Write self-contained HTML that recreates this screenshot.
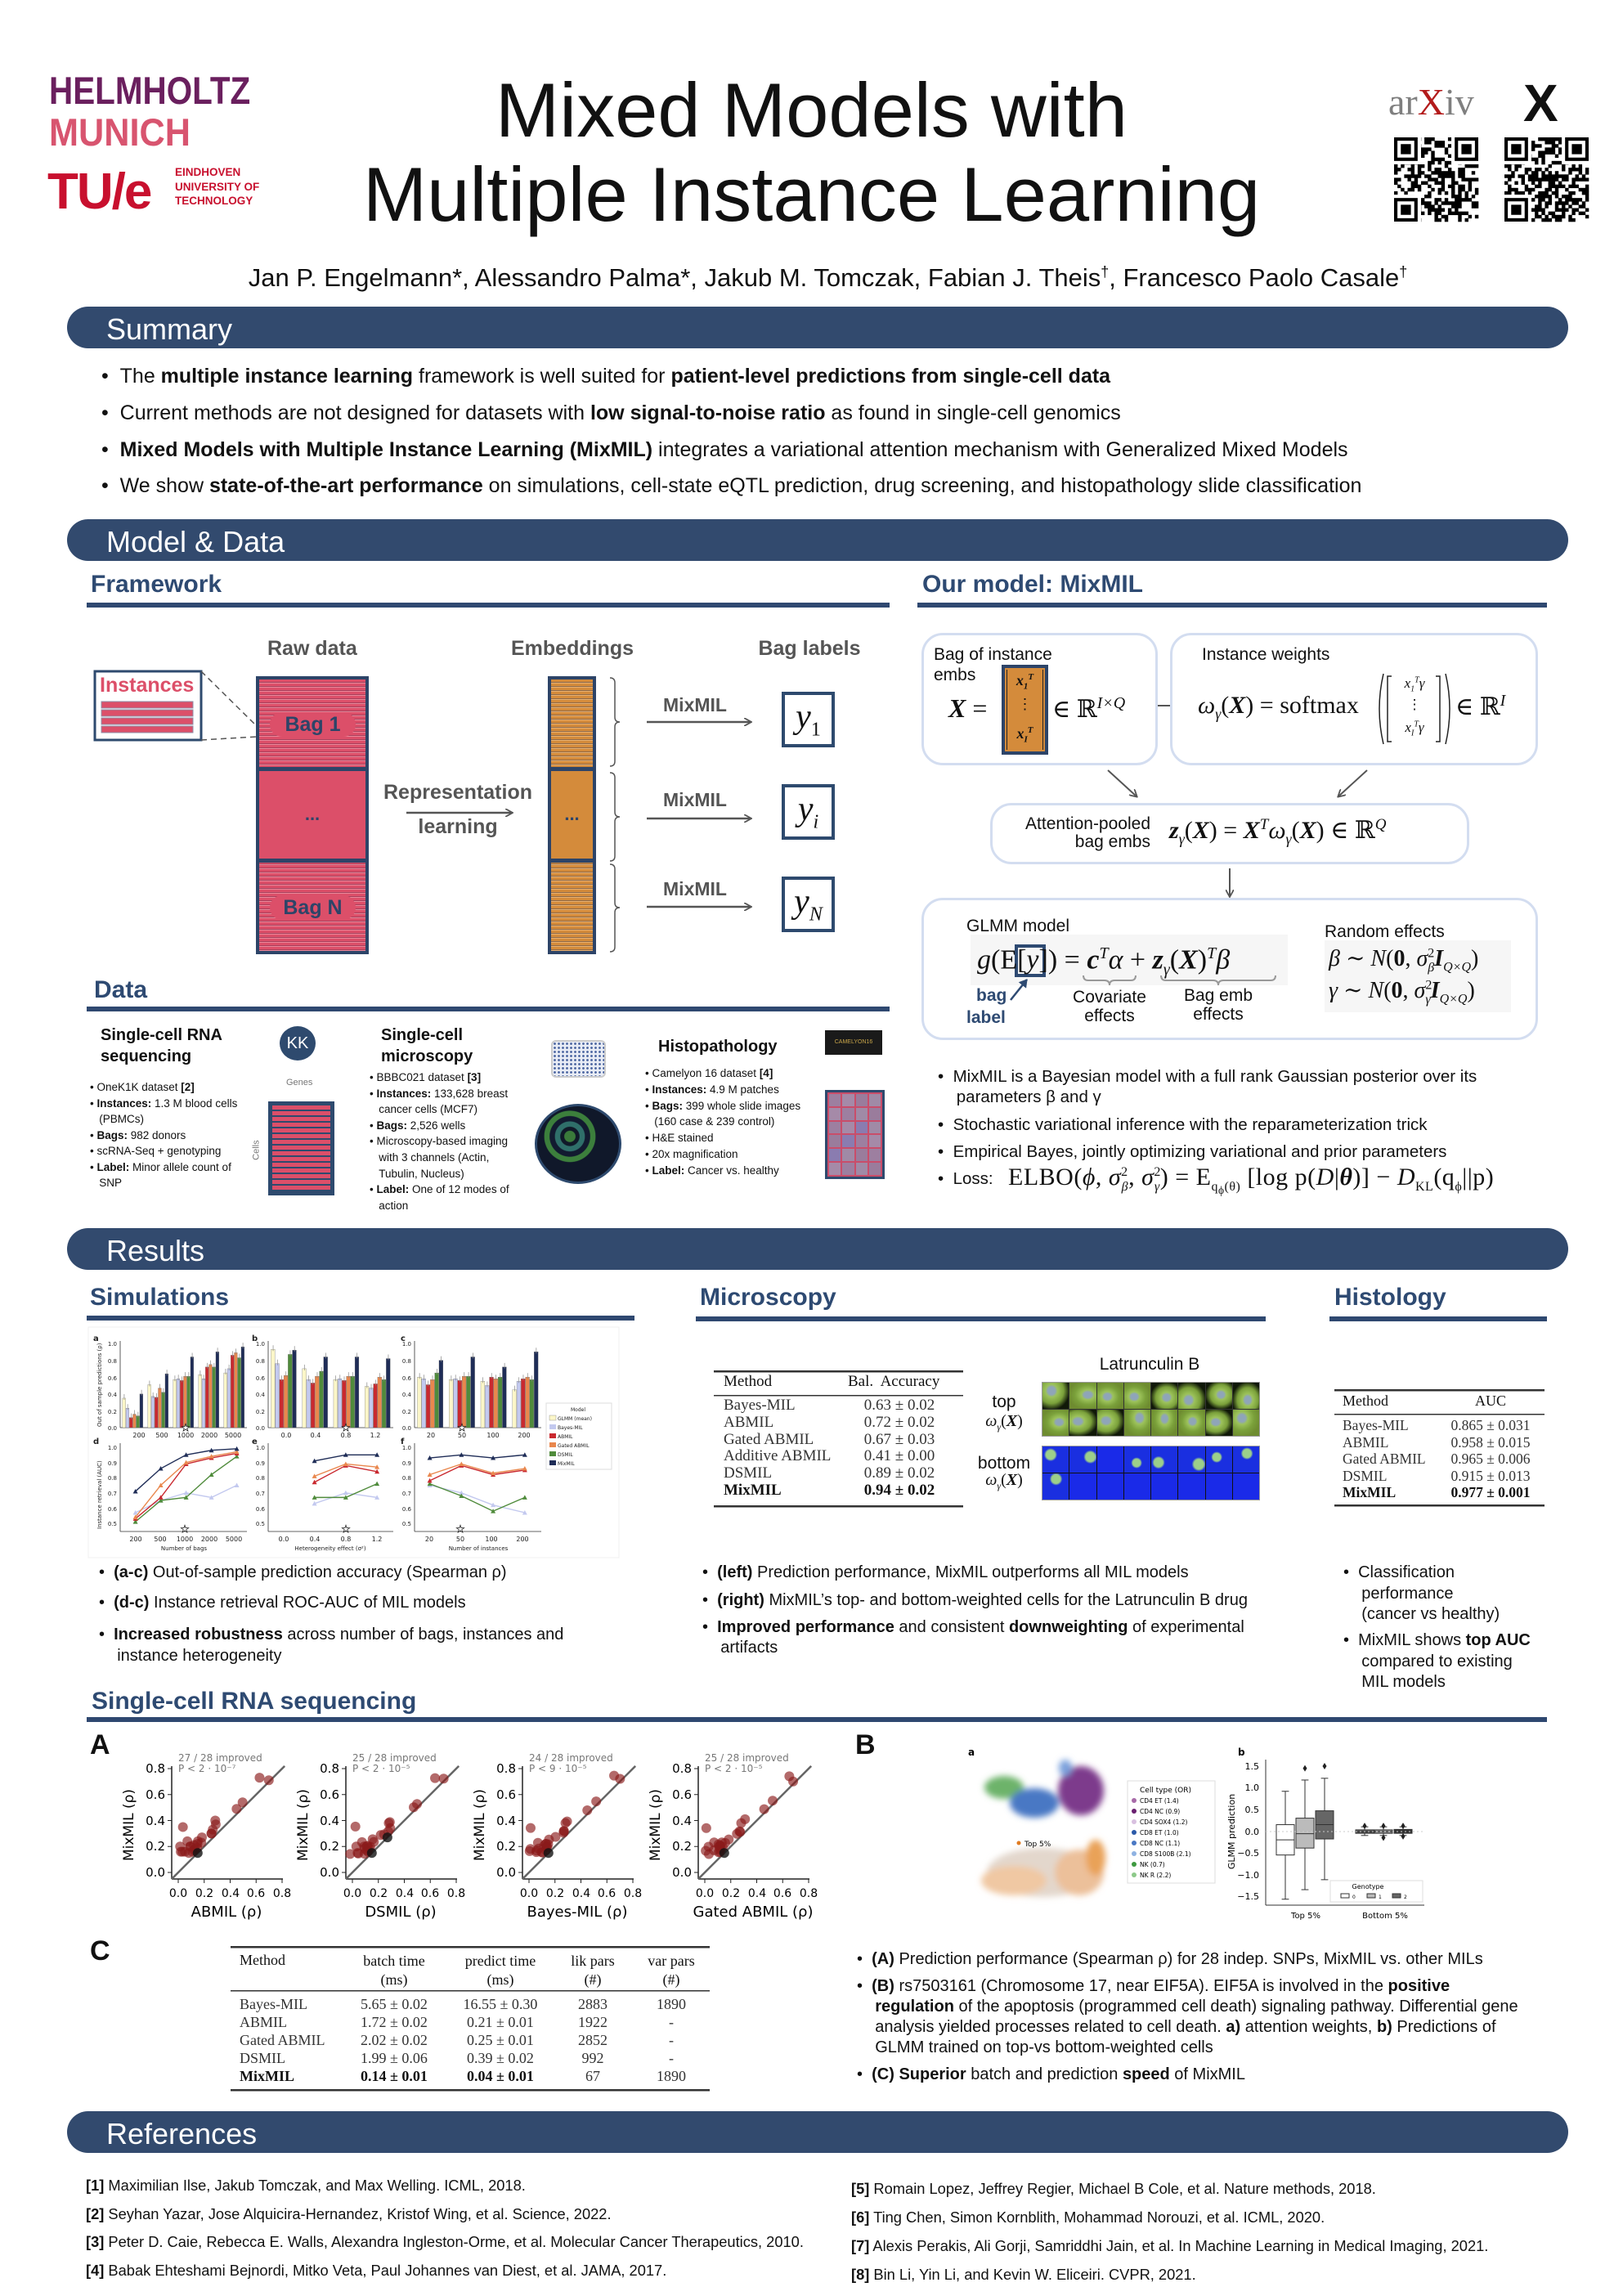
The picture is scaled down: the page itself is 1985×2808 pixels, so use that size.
<!DOCTYPE html>
<html><head><meta charset="utf-8">
<style>
*{margin:0;padding:0;box-sizing:border-box}
body{width:1985px;height:2808px;position:relative;background:#fff;font-family:"Liberation Sans",Arial,sans-serif;color:#111;overflow:hidden}
.a{position:absolute;white-space:nowrap;line-height:1.2}
.bar{position:absolute;left:82px;width:1836px;height:51px;background:#324a6e;border-radius:26px}
.bt{position:absolute;left:130px;color:#fff;font-size:36px;line-height:1.2;white-space:nowrap}
.h{position:absolute;font-size:30px;font-weight:bold;color:#2e4a72;line-height:1.2;white-space:nowrap}
.ul{position:absolute;height:6px;background:#2f4870}
.s{font-family:"Liberation Serif","DejaVu Serif",serif}
.i{font-style:italic}
.g{color:#555;font-weight:bold}
.bx{position:absolute;border:3px solid #d3ddf0;border-radius:26px;background:#fff}
.d{position:absolute;font-size:13.5px;line-height:1.2;white-space:nowrap}
.b20{font-size:20px}
</style></head><body>
<svg id="sv" width="1985" height="2808" style="position:absolute;left:0;top:0">
<defs>
<marker id="ar" markerWidth="10" markerHeight="10" refX="8" refY="5" orient="auto" markerUnits="userSpaceOnUse"><path d="M0,0 L9,5 L0,10" fill="none" stroke="#555" stroke-width="1.8"/></marker>
<marker id="ab" markerWidth="12" markerHeight="12" refX="9" refY="6" orient="auto" markerUnits="userSpaceOnUse"><path d="M0,0 L10,6 L0,12 Z" fill="#2e4a72"/></marker>
<filter id="bl"><feGaussianBlur stdDeviation="4"/></filter>
<filter id="bl2"><feGaussianBlur stdDeviation="1.5"/></filter>
</defs>
<rect x="116" y="821" width="130" height="84" fill="#fff" stroke="#2e4a6e" stroke-width="3"/>
<g fill="#dc4f69" stroke="#8c8fa8" stroke-width="1"><rect x="124" y="858" width="112" height="8"/><rect x="124" y="868" width="112" height="8"/><rect x="124" y="878" width="112" height="8"/><rect x="124" y="888" width="112" height="8"/></g>
<line x1="246" y1="821" x2="314" y2="888" stroke="#555" stroke-width="1.5" stroke-dasharray="7,5"/>
<line x1="246" y1="905" x2="314" y2="901" stroke="#555" stroke-width="1.5" stroke-dasharray="7,5"/>
<line x1="497" y1="994" x2="626" y2="994" stroke="#555" stroke-width="2.5" marker-end="url(#ar)"/>
<g stroke="#555" stroke-width="2.5" marker-end="url(#ar)">
<line x1="791" y1="883" x2="918" y2="883"/><line x1="791" y1="1001" x2="918" y2="1001"/><line x1="791" y1="1109" x2="918" y2="1109"/></g>
<g fill="none" stroke="#555" stroke-width="1.5">
<path d="M746,829 Q752,829 752,835 L752,877 Q752,883 758,883 Q752,883 752,889 L752,931 Q752,937 746,937"/>
<path d="M746,945 Q752,945 752,951 L752,993 Q752,999 758,999 Q752,999 752,1005 L752,1047 Q752,1053 746,1053"/>
<path d="M746,1057 Q752,1057 752,1063 L752,1104 Q752,1110 758,1110 Q752,1110 752,1116 L752,1158 Q752,1164 746,1164"/>
</g>
<g fill="#fff" stroke="#2e4a6e" stroke-width="4"><rect x="958" y="848" width="61" height="64"/><rect x="958" y="961" width="61" height="64"/><rect x="958" y="1074" width="61" height="64"/></g>
<g stroke="#555" stroke-width="2" marker-end="url(#ar)">
<line x1="1405" y1="863" x2="1442" y2="863"/>
<line x1="1355" y1="942" x2="1390" y2="974"/>
<line x1="1672" y1="942" x2="1637" y2="974"/>
<line x1="1504" y1="1062" x2="1504" y2="1096"/>
</g>
<rect x="106" y="737" width="982" height="6" fill="#2f4870"/>
<rect x="1122" y="737" width="770" height="6" fill="#2f4870"/>
<rect x="106" y="1231" width="982" height="6" fill="#2f4870"/>
<rect x="106" y="1609" width="670" height="6" fill="#2f4870"/>
<rect x="851" y="1610" width="697" height="6" fill="#2f4870"/>
<rect x="1626" y="1610" width="266" height="6" fill="#2f4870"/>
<rect x="106" y="2100" width="1786" height="6" fill="#2f4870"/>
<g fill="#333"><rect x="873" y="1676" width="305" height="2.5"/><rect x="873" y="1706" width="305" height="1.5"/><rect x="873" y="1841" width="305" height="2.5"/>
<rect x="1632" y="1699" width="257" height="2.5"/><rect x="1632" y="1729" width="257" height="1.5"/><rect x="1632" y="1840" width="257" height="2.5"/>
<rect x="282" y="2380" width="586" height="2.5"/><rect x="282" y="2434" width="586" height="1.5"/><rect x="282" y="2555" width="586" height="2.5"/></g>
<rect x="108" y="1623" width="649" height="282" fill="#fff" stroke="#f0f0f0"/>
<g id="dyn"></g>
<g font-family="DejaVu Sans,sans-serif" font-size="8" fill="#222">
<text x="114" y="1640" font-weight="bold" font-size="10">a</text><text x="308" y="1640" font-weight="bold" font-size="10">b</text><text x="490" y="1640" font-weight="bold" font-size="10">c</text>
<text x="114" y="1766" font-weight="bold" font-size="10">d</text><text x="308" y="1766" font-weight="bold" font-size="10">e</text><text x="490" y="1766" font-weight="bold" font-size="10">f</text>
<text transform="translate(124,1745) rotate(-90)" font-size="7">Out of sample predictions (ρ)</text>
<text transform="translate(124,1870) rotate(-90)" font-size="7">Instance retrieval (AUC)</text>
<text x="225" y="1896" text-anchor="middle" font-size="7">Number of bags</text>
<text x="404" y="1896" text-anchor="middle" font-size="7">Heterogeneity effect (σ²)</text>
<text x="585" y="1896" text-anchor="middle" font-size="7">Number of instances</text>
<text x="170" y="1758" text-anchor="middle">200</text><text x="198" y="1758" text-anchor="middle">500</text><text x="227" y="1758" text-anchor="middle">1000</text><text x="256" y="1758" text-anchor="middle">2000</text><text x="285" y="1758" text-anchor="middle">5000</text>
<text x="350" y="1758" text-anchor="middle">0.0</text><text x="386" y="1758" text-anchor="middle">0.4</text><text x="423" y="1758" text-anchor="middle">0.8</text><text x="459" y="1758" text-anchor="middle">1.2</text>
<text x="527" y="1758" text-anchor="middle">20</text><text x="565" y="1758" text-anchor="middle">50</text><text x="603" y="1758" text-anchor="middle">100</text><text x="641" y="1758" text-anchor="middle">200</text>
<text x="166" y="1885" text-anchor="middle">200</text><text x="196" y="1885" text-anchor="middle">500</text><text x="226" y="1885" text-anchor="middle">1000</text><text x="256" y="1885" text-anchor="middle">2000</text><text x="286" y="1885" text-anchor="middle">5000</text>
<text x="347" y="1885" text-anchor="middle">0.0</text><text x="385" y="1885" text-anchor="middle">0.4</text><text x="423" y="1885" text-anchor="middle">0.8</text><text x="461" y="1885" text-anchor="middle">1.2</text>
<text x="525" y="1885" text-anchor="middle">20</text><text x="563" y="1885" text-anchor="middle">50</text><text x="601" y="1885" text-anchor="middle">100</text><text x="639" y="1885" text-anchor="middle">200</text>
<g text-anchor="end" font-size="7"><text x="143" y="1646">1.0</text><text x="143" y="1667">0.8</text><text x="143" y="1688">0.6</text><text x="143" y="1708">0.4</text><text x="143" y="1729">0.2</text><text x="143" y="1749">0.0</text>
<text x="324" y="1646">1.0</text><text x="324" y="1667">0.8</text><text x="324" y="1688">0.6</text><text x="324" y="1708">0.4</text><text x="324" y="1729">0.2</text><text x="324" y="1749">0.0</text>
<text x="503" y="1646">1.0</text><text x="503" y="1667">0.8</text><text x="503" y="1688">0.6</text><text x="503" y="1708">0.4</text><text x="503" y="1729">0.2</text><text x="503" y="1749">0.0</text>
<text x="143" y="1773">1.0</text><text x="143" y="1792">0.9</text><text x="143" y="1810">0.8</text><text x="143" y="1829">0.7</text><text x="143" y="1848">0.6</text><text x="143" y="1866">0.5</text>
<text x="324" y="1773">1.0</text><text x="324" y="1792">0.9</text><text x="324" y="1810">0.8</text><text x="324" y="1829">0.7</text><text x="324" y="1848">0.6</text><text x="324" y="1866">0.5</text>
<text x="503" y="1773">1.0</text><text x="503" y="1792">0.9</text><text x="503" y="1810">0.8</text><text x="503" y="1829">0.7</text><text x="503" y="1848">0.6</text><text x="503" y="1866">0.5</text></g>
<g font-size="12" fill="#fff" stroke="#222" stroke-width="0.8" text-anchor="middle"><text x="227" y="1750">★</text><text x="423" y="1750">★</text><text x="565" y="1750">★</text><text x="226" y="1874">★</text><text x="423" y="1874">★</text><text x="563" y="1874">★</text></g>
<rect x="668" y="1716" width="80" height="81" fill="#fff" stroke="#ddd"/>
<g font-size="6"><text x="698" y="1726">Model</text><text x="682" y="1737">GLMM (mean)</text><text x="682" y="1748">Bayes-MIL</text><text x="682" y="1759">ABMIL</text><text x="682" y="1770">Gated ABMIL</text><text x="682" y="1781">DSMIL</text><text x="682" y="1792">MixMIL</text></g>
<rect x="672" y="1731" width="8" height="6" fill="#fbf6c8" stroke="#999" stroke-width=".5"/><rect x="672" y="1742" width="8" height="6" fill="#c3c9ef"/><rect x="672" y="1753" width="8" height="6" fill="#c9292f"/><rect x="672" y="1764" width="8" height="6" fill="#e9874d"/><rect x="672" y="1775" width="8" height="6" fill="#4f8b3b"/><rect x="672" y="1786" width="8" height="6" fill="#1f2d57"/>
</g>
<g font-family="DejaVu Sans,sans-serif">
<g><text x="218" y="2154" font-size="12" fill="#777">27 / 28 improved</text><text x="218" y="2167" font-size="12" fill="#777">P &lt; 2 · 10⁻⁷</text><text x="277" y="2344" font-size="18" text-anchor="middle">ABMIL (ρ)</text></g>
<g><text x="431" y="2154" font-size="12" fill="#777">25 / 28 improved</text><text x="431" y="2167" font-size="12" fill="#777">P &lt; 2 · 10⁻⁵</text><text x="490" y="2344" font-size="18" text-anchor="middle">DSMIL (ρ)</text></g>
<g><text x="647" y="2154" font-size="12" fill="#777">24 / 28 improved</text><text x="647" y="2167" font-size="12" fill="#777">P &lt; 9 · 10⁻⁵</text><text x="706" y="2344" font-size="18" text-anchor="middle">Bayes-MIL (ρ)</text></g>
<g><text x="862" y="2154" font-size="12" fill="#777">25 / 28 improved</text><text x="862" y="2167" font-size="12" fill="#777">P &lt; 2 · 10⁻⁵</text><text x="921" y="2344" font-size="18" text-anchor="middle">Gated ABMIL (ρ)</text></g>
<g font-size="17"><text transform="translate(163,2232) rotate(-90)" text-anchor="middle">MixMIL (ρ)</text><text transform="translate(376,2232) rotate(-90)" text-anchor="middle">MixMIL (ρ)</text><text transform="translate(592,2232) rotate(-90)" text-anchor="middle">MixMIL (ρ)</text><text transform="translate(807,2232) rotate(-90)" text-anchor="middle">MixMIL (ρ)</text></g>
<g font-size="15" text-anchor="end">
<text x="202" y="2168">0.8</text><text x="202" y="2200">0.6</text><text x="202" y="2232">0.4</text><text x="202" y="2263">0.2</text><text x="202" y="2295">0.0</text>
<text x="415" y="2168">0.8</text><text x="415" y="2200">0.6</text><text x="415" y="2232">0.4</text><text x="415" y="2263">0.2</text><text x="415" y="2295">0.0</text>
<text x="631" y="2168">0.8</text><text x="631" y="2200">0.6</text><text x="631" y="2232">0.4</text><text x="631" y="2263">0.2</text><text x="631" y="2295">0.0</text>
<text x="846" y="2168">0.8</text><text x="846" y="2200">0.6</text><text x="846" y="2232">0.4</text><text x="846" y="2263">0.2</text><text x="846" y="2295">0.0</text></g>
<g font-size="14" text-anchor="middle">
<text x="218" y="2320">0.0</text><text x="250" y="2320">0.2</text><text x="282" y="2320">0.4</text><text x="313" y="2320">0.6</text><text x="345" y="2320">0.8</text>
<text x="431" y="2320">0.0</text><text x="463" y="2320">0.2</text><text x="495" y="2320">0.4</text><text x="526" y="2320">0.6</text><text x="558" y="2320">0.8</text>
<text x="647" y="2320">0.0</text><text x="679" y="2320">0.2</text><text x="711" y="2320">0.4</text><text x="742" y="2320">0.6</text><text x="774" y="2320">0.8</text>
<text x="862" y="2320">0.0</text><text x="894" y="2320">0.2</text><text x="926" y="2320">0.4</text><text x="957" y="2320">0.6</text><text x="989" y="2320">0.8</text></g>
</g>
<g filter="url(#bl)">
<ellipse cx="1228" cy="2186" rx="24" ry="14" fill="#6db36a"/>
<ellipse cx="1265" cy="2205" rx="30" ry="18" fill="#4a78c4"/>
<ellipse cx="1322" cy="2190" rx="28" ry="30" fill="#7d3a8c"/>
<ellipse cx="1303" cy="2162" rx="8" ry="10" fill="#7aa0dc"/>
<ellipse cx="1275" cy="2290" rx="68" ry="30" fill="#e3d7cc"/>
<ellipse cx="1320" cy="2290" rx="30" ry="28" fill="#ecc09a"/>
<ellipse cx="1240" cy="2300" rx="40" ry="18" fill="#f0c8a3"/>
<ellipse cx="1340" cy="2272" rx="12" ry="22" fill="#e9a258"/>
</g>
<circle cx="1246" cy="2254" r="2.5" fill="#e07b20"/>
<g font-family="DejaVu Sans,sans-serif">
<text x="1253" y="2258" font-size="9">Top 5%</text>
<text x="1184" y="2147" font-size="12" font-weight="bold">a</text>
<text x="1514" y="2147" font-size="12" font-weight="bold">b</text>
<rect x="1379" y="2178" width="107" height="125" fill="#fff" stroke="#ddd"/>
<text x="1394" y="2192" font-size="9">Cell type (OR)</text>
<g font-size="7.5"><text x="1394" y="2205">CD4 ET (1.4)</text><text x="1394" y="2218">CD4 NC (0.9)</text><text x="1394" y="2231">CD4 SOX4 (1.2)</text><text x="1394" y="2244">CD8 ET (1.0)</text><text x="1394" y="2257">CD8 NC (1.1)</text><text x="1394" y="2270">CD8 S100B (2.1)</text><text x="1394" y="2283">NK (0.7)</text><text x="1394" y="2296">NK R (2.2)</text></g>
<circle cx="1387" cy="2202" r="3" fill="#a76aa8"/><circle cx="1387" cy="2215" r="3" fill="#6a2070"/><circle cx="1387" cy="2228" r="3" fill="#d8c0e0"/><circle cx="1387" cy="2241" r="3" fill="#2c5aa8"/><circle cx="1387" cy="2254" r="3" fill="#4a78c4"/><circle cx="1387" cy="2267" r="3" fill="#8fb2e2"/><circle cx="1387" cy="2280" r="3" fill="#3e9a40"/><circle cx="1387" cy="2293" r="3" fill="#8dc98a"/>
<line x1="1548" y1="2152" x2="1548" y2="2330" stroke="#333"/><line x1="1548" y1="2330" x2="1742" y2="2330" stroke="#333"/>
<line x1="1548" y1="2240" x2="1742" y2="2240" stroke="#ccc" stroke-dasharray="2,3"/>
<g font-size="11" text-anchor="end"><text x="1540" y="2164">1.5</text><text x="1540" y="2190">1.0</text><text x="1540" y="2217">0.5</text><text x="1540" y="2244">0.0</text><text x="1540" y="2270">−0.5</text><text x="1540" y="2297">−1.0</text><text x="1540" y="2323">−1.5</text></g>
<text transform="translate(1510,2240) rotate(-90)" font-size="11" text-anchor="middle">GLMM prediction</text>
<text x="1597" y="2346" font-size="10" text-anchor="middle">Top 5%</text><text x="1694" y="2346" font-size="10" text-anchor="middle">Bottom 5%</text>
<rect x="1627" y="2300" width="113" height="26" fill="#fff" stroke="#ddd"/>
<text x="1673" y="2310" font-size="8" text-anchor="middle">Genotype</text>
<rect x="1640" y="2316" width="10" height="5" fill="#fff" stroke="#333"/><rect x="1672" y="2316" width="10" height="5" fill="#bbb" stroke="#333"/><rect x="1703" y="2316" width="10" height="5" fill="#666" stroke="#333"/>
<g font-size="6"><text x="1654" y="2322">0</text><text x="1686" y="2322">1</text><text x="1717" y="2322">2</text></g>
</g>
</svg>

<div class="a" style="left:60px;top:83px;font-size:47px;font-weight:bold;color:#6a1f5e;transform:scaleX(.86);transform-origin:left">HELMHOLTZ</div>
<div class="a" style="left:60px;top:134px;font-size:47px;font-weight:bold;color:#d8546f;transform:scaleX(.92);transform-origin:left">MUNICH</div>
<div class="a" style="left:58px;top:198px;font-size:62px;font-weight:bold;color:#c8102e;letter-spacing:-2px">TU/e</div>
<div class="a" style="left:214px;top:202px;font-size:13.5px;font-weight:bold;color:#c8102e;line-height:17.5px">EINDHOVEN<br>UNIVERSITY OF<br>TECHNOLOGY</div>
<div class="a" style="left:0;width:1985px;text-align:center;top:79px;font-size:94px">Mixed Models with</div>
<div class="a" style="left:0;width:1985px;text-align:center;top:182px;font-size:94px">Multiple Instance Learning</div>
<div class="a s" style="left:1698px;top:97px;font-size:46px;color:#7f7f7f">ar<span style="color:#b31b1b">X</span>iv</div>
<div class="a" style="left:1863px;top:88px;font-size:64px;font-weight:bold">X</div>
<div class="a" style="left:0;width:2025px;text-align:center;top:321px;font-size:31px">Jan P. Engelmann*, Alessandro Palma*, Jakub M. Tomczak, Fabian J. Theis<sup style="font-size:18px">†</sup>, Francesco Paolo Casale<sup style="font-size:18px">†</sup></div>

<div class="bar" style="top:375px"></div><div class="bt" style="top:381px">Summary</div>
<div class="a" style="left:124px;top:445px;font-size:25px">•&nbsp;&nbsp;The <b>multiple instance learning</b> framework is well suited for <b>patient-level predictions from single-cell data</b></div>
<div class="a" style="left:124px;top:490px;font-size:25px">•&nbsp;&nbsp;Current methods are not designed for datasets with <b>low signal-to-noise ratio</b> as found in single-cell genomics</div>
<div class="a" style="left:124px;top:535px;font-size:25px">•&nbsp;&nbsp;<b>Mixed Models with Multiple Instance Learning (MixMIL)</b> integrates a variational attention mechanism with Generalized Mixed Models</div>
<div class="a" style="left:124px;top:579px;font-size:25px">•&nbsp;&nbsp;We show <b>state-of-the-art performance</b> on simulations, cell-state eQTL prediction, drug screening, and histopathology slide classification</div>

<div class="bar" style="top:635px"></div><div class="bt" style="top:641px">Model &amp; Data</div>
<div class="h" style="left:111px;top:697px">Framework</div>
<div class="h" style="left:1128px;top:697px">Our model: MixMIL</div>

<div class="a g" style="left:327px;top:778px;font-size:25px;width:100px;text-align:center">Raw data</div>
<div class="a g" style="left:600px;top:778px;font-size:25px;width:200px;text-align:center">Embeddings</div>
<div class="a g" style="left:890px;top:778px;font-size:25px;width:200px;text-align:center">Bag labels</div>
<div class="a" style="left:122px;top:823px;font-size:25px;font-weight:bold;color:#dc4f69">Instances</div>
<div style="position:absolute;left:313px;top:827px;width:138px;height:340px;border:4px solid #2d4468;background:#dc4f69"></div>
<div style="position:absolute;left:317px;top:831px;width:130px;height:108px;background:repeating-linear-gradient(#dc4f69 0 3px,#a8405c 3px 4px,#e9889a 4px 5px)"></div>
<div style="position:absolute;left:317px;top:1053px;width:130px;height:110px;background:repeating-linear-gradient(#dc4f69 0 3px,#a8405c 3px 4px,#e9889a 4px 5px)"></div>
<div style="position:absolute;left:313px;top:938px;width:138px;height:5px;background:#2d4468"></div>
<div style="position:absolute;left:313px;top:1050px;width:138px;height:5px;background:#2d4468"></div>
<div class="a" style="left:330px;top:871px;width:105px;height:30px;border-radius:15px;background:#dc4f69;color:#2d4468;font-weight:bold;font-size:25px;text-align:center;line-height:30px">Bag 1</div>
<div class="a" style="left:330px;top:1095px;width:105px;height:30px;border-radius:15px;background:#dc4f69;color:#2d4468;font-weight:bold;font-size:25px;text-align:center;line-height:30px">Bag N</div>
<div class="a" style="left:313px;top:983px;width:138px;text-align:center;font-size:22px;color:#2d4468;font-weight:bold">...</div>
<div style="position:absolute;left:670px;top:827px;width:59px;height:340px;border:4px solid #2d4468;background:#d48b3b"></div>
<div style="position:absolute;left:674px;top:831px;width:51px;height:108px;background:repeating-linear-gradient(#d48b3b 0 3px,#8f6a4a 3px 4px,#e8b070 4px 5px)"></div>
<div style="position:absolute;left:674px;top:1053px;width:51px;height:110px;background:repeating-linear-gradient(#d48b3b 0 3px,#8f6a4a 3px 4px,#e8b070 4px 5px)"></div>
<div style="position:absolute;left:670px;top:938px;width:59px;height:5px;background:#2d4468"></div>
<div style="position:absolute;left:670px;top:1050px;width:59px;height:5px;background:#2d4468"></div>
<div class="a" style="left:670px;top:983px;width:59px;text-align:center;font-size:22px;color:#2d4468;font-weight:bold">...</div>
<div class="a g" style="left:460px;top:954px;width:200px;text-align:center;font-size:25px">Representation</div>
<div class="a g" style="left:460px;top:996px;width:200px;text-align:center;font-size:25px">learning</div>
<div class="a g" style="left:800px;top:849px;width:100px;text-align:center;font-size:23px">MixMIL</div>
<div class="a g" style="left:800px;top:965px;width:100px;text-align:center;font-size:23px">MixMIL</div>
<div class="a g" style="left:800px;top:1074px;width:100px;text-align:center;font-size:23px">MixMIL</div>
<div class="a s i" style="left:958px;top:852px;width:61px;text-align:center;font-size:42px;line-height:50px">y<sub style="font-size:24px;font-style:normal">1</sub></div>
<div class="a s i" style="left:958px;top:965px;width:61px;text-align:center;font-size:42px;line-height:50px">y<sub style="font-size:24px">i</sub></div>
<div class="a s i" style="left:958px;top:1078px;width:61px;text-align:center;font-size:42px;line-height:50px">y<sub style="font-size:24px">N</sub></div>

<div class="h" style="left:115px;top:1193px">Data</div>
<div class="a b20" style="left:123px;top:1254px;font-weight:bold">Single-cell RNA</div>
<div class="a b20" style="left:123px;top:1280px;font-weight:bold">sequencing</div>
<div class="a" style="left:342px;top:1255px;width:44px;height:42px;border-radius:50%;background:#2e4a6e;color:#fff;font-size:20px;text-align:center;line-height:42px">KK</div>
<div class="d" style="left:110px;top:1320px;line-height:19.5px">• OneK1K dataset <b>[2]</b><br>• <b>Instances:</b> 1.3 M blood cells<br>&nbsp;&nbsp;&nbsp;(PBMCs)<br>• <b>Bags:</b> 982 donors<br>• scRNA-Seq + genotyping<br>• <b>Label:</b> Minor allele count of<br>&nbsp;&nbsp;&nbsp;SNP</div>
<div class="a" style="left:350px;top:1318px;font-size:11px;color:#777">Genes</div>
<div style="position:absolute;left:328px;top:1347px;width:81px;height:115px;border:5px solid #2e4a6e;background:repeating-linear-gradient(#dc4f69 0 5px,#2e4a6e 5px 7px)"></div>
<div class="a" style="left:302px;top:1400px;font-size:11px;color:#777;transform:rotate(-90deg)">Cells</div>
<div class="a b20" style="left:466px;top:1254px;font-weight:bold">Single-cell</div>
<div class="a b20" style="left:466px;top:1280px;font-weight:bold">microscopy</div>
<div style="position:absolute;left:674px;top:1272px;width:67px;height:46px;border:2px solid #ccc;border-radius:6px;background:radial-gradient(circle,#4a64a0 1.2px,#e8ecf5 1.6px) 0 0/5px 5px"></div>
<div style="position:absolute;left:654px;top:1350px;width:106px;height:98px;border-radius:50%;background:radial-gradient(circle at 40% 40%,#3a7a3a 0 8%,#101828 9% 14%,#2f6f6a 15% 22%,#121a30 23% 30%,#3c7f3c 31% 38%,#10182a 39%);border:3px solid #2e4a6e"></div>
<div class="d" style="left:452px;top:1308px;line-height:19.6px">• BBBC021 dataset <b>[3]</b><br>• <b>Instances:</b> 133,628 breast<br>&nbsp;&nbsp;&nbsp;cancer cells (MCF7)<br>• <b>Bags:</b> 2,526 wells<br>• Microscopy-based imaging<br>&nbsp;&nbsp;&nbsp;with 3 channels (Actin,<br>&nbsp;&nbsp;&nbsp;Tubulin, Nucleus)<br>• <b>Label:</b> One of 12 modes of<br>&nbsp;&nbsp;&nbsp;action</div>
<div class="a b20" style="left:805px;top:1268px;font-weight:bold">Histopathology</div>
<div class="a" style="left:1009px;top:1260px;width:70px;height:30px;background:#1a1a1a;color:#c9a64a;font-size:7px;line-height:30px;text-align:center">CAMELYON16</div>
<div class="d" style="left:789px;top:1303px;line-height:19.8px">• Camelyon 16 dataset <b>[4]</b><br>• <b>Instances:</b> 4.9 M patches<br>• <b>Bags:</b> 399 whole slide images<br>&nbsp;&nbsp;&nbsp;(160 case &amp; 239 control)<br>• H&amp;E stained<br>• 20x magnification<br>• <b>Label:</b> Cancer vs. healthy</div>
<div style="position:absolute;left:1009px;top:1333px;width:73px;height:109px;border:3px solid #2e4a6e;background:#c94d6a;display:grid;grid-template-columns:repeat(4,1fr);gap:2px;padding:2px">
<i style="background:#9d7fa0"></i><i style="background:#a58aa8"></i><i style="background:#9a7c9c"></i><i style="background:#a08aa6"></i><i style="background:#a58aa8"></i><i style="background:#9d7fa0"></i><i style="background:#a08aa6"></i><i style="background:#9a7c9c"></i><i style="background:#9d7fa0"></i><i style="background:#a58aa8"></i><i style="background:#8a7cb0"></i><i style="background:#a08aa6"></i><i style="background:#9a7c9c"></i><i style="background:#8a7cb0"></i><i style="background:#9d7fa0"></i><i style="background:#a58aa8"></i><i style="background:#8a7cb0"></i><i style="background:#a08aa6"></i><i style="background:#9a7c9c"></i><i style="background:#9d7fa0"></i><i style="background:#a58aa8"></i><i style="background:#9d7fa0"></i><i style="background:#a08aa6"></i><i style="background:#9a7c9c"></i></div>

<div class="bx" style="left:1127px;top:774px;width:289px;height:162px"></div>
<div class="bx" style="left:1431px;top:774px;width:450px;height:162px"></div>
<div class="bx" style="left:1211px;top:982px;width:586px;height:75px"></div>
<div class="bx" style="left:1127px;top:1098px;width:754px;height:174px"></div>
<div class="a" style="left:1142px;top:788px;font-size:21px">Bag of instance</div>
<div class="a" style="left:1142px;top:813px;font-size:21px">embs</div>
<div class="a s i" style="left:1160px;top:847px;font-size:32px;font-weight:bold">X <span style="font-weight:normal;font-style:normal">=</span></div>
<div style="position:absolute;left:1225px;top:813px;width:57px;height:110px;background:#d48b3b;border:4px solid #2d4468"></div>
<div style="position:absolute;left:1231px;top:819px;width:45px;height:98px;border-left:1.5px solid #222;border-right:1.5px solid #222"></div>
<div class="a s i" style="left:1225px;top:822px;width:57px;text-align:center;font-size:18px;font-weight:bold">x<sub style="font-size:11px">1</sub><sup style="font-size:11px">T</sup></div>
<div class="a s" style="left:1225px;top:851px;width:57px;text-align:center;font-size:18px">⋮</div>
<div class="a s i" style="left:1225px;top:887px;width:57px;text-align:center;font-size:18px;font-weight:bold">x<sub style="font-size:11px">I</sub><sup style="font-size:11px">T</sup></div>
<div class="a s" style="left:1287px;top:848px;font-size:30px">∈ ℝ<sup class="i" style="font-size:20px">I×Q</sup></div>
<div class="a" style="left:1470px;top:788px;font-size:21px">Instance weights</div>
<div class="a s" style="left:1465px;top:845px;font-size:30px"><i>ω</i><sub class="i" style="font-size:18px">γ</sub>(<b class="i">X</b>) = softmax</div>
<svg style="position:absolute;left:1680px;top:822px" width="100" height="90"><g fill="none" stroke="#222" stroke-width="1.5"><path d="M12,2 Q2,45 12,88"/><path d="M88,2 Q98,45 88,88"/><path d="M22,5 h-5 v80 h5"/><path d="M76,5 h5 v80 h-5"/></g></svg>
<div class="a s i" style="left:1700px;top:826px;width:60px;text-align:center;font-size:17px">x<sub style="font-size:10px">1</sub><sup style="font-size:10px">T</sup>γ</div>
<div class="a s" style="left:1700px;top:852px;width:60px;text-align:center;font-size:17px">⋮</div>
<div class="a s i" style="left:1700px;top:880px;width:60px;text-align:center;font-size:17px">x<sub style="font-size:10px">I</sub><sup style="font-size:10px">T</sup>γ</div>
<div class="a s" style="left:1780px;top:845px;font-size:30px">∈ ℝ<sup class="i" style="font-size:20px">I</sup></div>
<div class="a" style="left:1207px;top:995px;width:200px;text-align:right;font-size:21px">Attention-pooled</div>
<div class="a" style="left:1207px;top:1017px;width:200px;text-align:right;font-size:21px">bag embs</div>
<div class="a s" style="left:1430px;top:998px;font-size:30px"><b class="i">z</b><sub class="i" style="font-size:18px">γ</sub>(<b class="i">X</b>) = <b class="i">X</b><sup class="i" style="font-size:19px">T</sup><i>ω</i><sub class="i" style="font-size:18px">γ</sub>(<b class="i">X</b>) ∈ ℝ<sup class="i" style="font-size:19px">Q</sup></div>
<div class="a" style="left:1182px;top:1120px;font-size:21px">GLMM model</div>
<div style="position:absolute;left:1187px;top:1143px;width:388px;height:62px;background:#f6f6f6"></div>
<div style="position:absolute;left:1241px;top:1155px;width:38px;height:40px;border:4px solid #2e4a72"></div>
<div class="a s" style="left:1195px;top:1154px;font-size:34px"><i>g</i>(E[<i>y</i>]) = <b class="i">c</b><sup class="i" style="font-size:20px">T</sup><i>α</i> + <b class="i">z</b><sub class="i" style="font-size:20px">γ</sub>(<b class="i">X</b>)<sup class="i" style="font-size:20px">T</sup><i>β</i></div>
<svg style="position:absolute;left:1180px;top:1190px" width="400" height="40"><g fill="none" stroke="#999" stroke-width="2"><path d="M145,3 q0,6 6,6 h20 q6,0 6,6 q0,-6 6,-6 h20 q6,0 6,-6"/><path d="M240,3 q0,6 6,6 h58 q6,0 6,6 q0,-6 6,-6 h58 q6,0 6,-6"/></g><line x1="56" y1="33" x2="76" y2="8" stroke="#2e4a72" stroke-width="2.5" marker-end="url(#ab)"/></svg>
<div class="a" style="left:1194px;top:1205px;font-size:21px;font-weight:bold;color:#2e4a72">bag</div>
<div class="a" style="left:1182px;top:1232px;font-size:21px;font-weight:bold;color:#2e4a72">label</div>
<div class="a" style="left:1297px;top:1207px;width:120px;text-align:center;font-size:21px">Covariate</div>
<div class="a" style="left:1297px;top:1230px;width:120px;text-align:center;font-size:21px">effects</div>
<div class="a" style="left:1430px;top:1205px;width:120px;text-align:center;font-size:21px">Bag emb</div>
<div class="a" style="left:1430px;top:1228px;width:120px;text-align:center;font-size:21px">effects</div>
<div class="a" style="left:1620px;top:1127px;font-size:21px">Random effects</div>
<div style="position:absolute;left:1620px;top:1150px;width:228px;height:88px;background:#f6f6f6"></div>
<div class="a s" style="left:1625px;top:1156px;font-size:28px"><i>β</i> ∼ <i>N</i>(<b>0</b>, <i>σ</i><sup style="font-size:16px">2</sup><sub class="i" style="font-size:16px;margin-left:-8px">β</sub><b class="i">I</b><sub class="i" style="font-size:16px">Q×Q</sub>)</div>
<div class="a s" style="left:1625px;top:1195px;font-size:28px"><i>γ</i> ∼ <i>N</i>(<b>0</b>, <i>σ</i><sup style="font-size:16px">2</sup><sub class="i" style="font-size:16px;margin-left:-8px">γ</sub><b class="i">I</b><sub class="i" style="font-size:16px">Q×Q</sub>)</div>
<div class="a" style="left:1147px;top:1304px;font-size:20.5px;line-height:25px">•&nbsp;&nbsp;MixMIL is a Bayesian model with a full rank Gaussian posterior over its<br>&nbsp;&nbsp;&nbsp;&nbsp;parameters β and γ</div>
<div class="a" style="left:1147px;top:1364px;font-size:20.5px">•&nbsp;&nbsp;Stochastic variational inference with the reparameterization trick</div>
<div class="a" style="left:1147px;top:1397px;font-size:20.5px">•&nbsp;&nbsp;Empirical Bayes, jointly optimizing variational and prior parameters</div>
<div class="a" style="left:1147px;top:1430px;font-size:20.5px">•&nbsp;&nbsp;Loss:</div>
<div class="a s" style="left:1233px;top:1422px;font-size:30px;letter-spacing:.5px">ELBO(<i>ϕ</i>, <i>σ</i><sup style="font-size:16px">2</sup><sub class="i" style="font-size:16px;margin-left:-8px">β</sub>, <i>σ</i><sup style="font-size:16px">2</sup><sub class="i" style="font-size:16px;margin-left:-8px">γ</sub>) = E<sub style="font-size:16px">q<sub>ϕ</sub>(θ)</sub> [log p(<i>D</i>|<b class="i">θ</b>)] − <i>D</i><sub style="font-size:16px">KL</sub>(q<sub style="font-size:16px">ϕ</sub>||p)</div>

<div class="bar" style="top:1502px"></div><div class="bt" style="top:1508px">Results</div>
<div class="h" style="left:110px;top:1569px">Simulations</div>
<div class="h" style="left:856px;top:1569px">Microscopy</div>
<div class="h" style="left:1632px;top:1569px">Histology</div>

<div class="a s" style="left:885px;top:1679px;font-size:19px">Method</div>
<div class="a s" style="left:1037px;top:1679px;font-size:19px">Bal.&nbsp; Accuracy</div>
<div class="a s" style="left:885px;top:1709px;font-size:19px;line-height:20.8px;color:#333">Bayes-MIL<br>ABMIL<br>Gated ABMIL<br>Additive ABMIL<br>DSMIL<br><b style="color:#111">MixMIL</b></div>
<div class="a s" style="left:1040px;width:120px;text-align:center;top:1709px;font-size:19px;line-height:20.8px;color:#333">0.63 ± 0.02<br>0.72 ± 0.02<br>0.67 ± 0.03<br>0.41 ± 0.00<br>0.89 ± 0.02<br><b style="color:#111">0.94 ± 0.02</b></div>
<div class="a" style="left:1306px;width:200px;text-align:center;top:1656px;font-size:21px">Latrunculin B</div>
<div id="tiles" style="position:absolute;left:1274px;top:1690px;width:267px;height:67px;display:grid;grid-template-columns:repeat(8,1fr);grid-template-rows:1fr 1fr;gap:1px;background:#333;border:1px solid #999"></div>
<div id="tiles2" style="position:absolute;left:1274px;top:1768px;width:267px;height:67px;display:grid;grid-template-columns:repeat(8,1fr);grid-template-rows:1fr 1fr;gap:1px;background:#111;border:1px solid #999"></div>
<div class="a" style="left:1198px;width:60px;text-align:center;top:1702px;font-size:21px">top</div>
<div class="a s" style="left:1198px;width:60px;text-align:center;top:1726px;font-size:20px"><i>ω</i><sub class="i" style="font-size:12px">γ</sub>(<b class="i">X</b>)</div>
<div class="a" style="left:1188px;width:80px;text-align:center;top:1777px;font-size:21px">bottom</div>
<div class="a s" style="left:1198px;width:60px;text-align:center;top:1798px;font-size:20px"><i>ω</i><sub class="i" style="font-size:12px">γ</sub>(<b class="i">X</b>)</div>

<div class="a s" style="left:1642px;top:1703px;font-size:18px">Method</div>
<div class="a s" style="left:1783px;width:80px;text-align:center;top:1703px;font-size:18px">AUC</div>
<div class="a s" style="left:1642px;top:1733px;font-size:17.5px;line-height:20.6px;color:#333">Bayes-MIL<br>ABMIL<br>Gated ABMIL<br>DSMIL<br><b style="color:#111">MixMIL</b></div>
<div class="a s" style="left:1763px;width:120px;text-align:center;top:1733px;font-size:17.5px;line-height:20.6px;color:#333">0.865 ± 0.031<br>0.958 ± 0.015<br>0.965 ± 0.006<br>0.915 ± 0.013<br><b style="color:#111">0.977 ± 0.001</b></div>

<div class="a" style="left:121px;top:1911px;font-size:20px">•&nbsp;&nbsp;<b>(a-c)</b> Out-of-sample prediction accuracy (Spearman ρ)</div>
<div class="a" style="left:121px;top:1948px;font-size:20px">•&nbsp;&nbsp;<b>(d-c)</b> Instance retrieval ROC-AUC of MIL models</div>
<div class="a" style="left:121px;top:1986px;font-size:20px;line-height:26px">•&nbsp;&nbsp;<b>Increased robustness</b> across number of bags, instances and<br>&nbsp;&nbsp;&nbsp;&nbsp;instance heterogeneity</div>
<div class="a" style="left:859px;top:1911px;font-size:20px">•&nbsp;&nbsp;<b>(left)</b> Prediction performance, MixMIL outperforms all MIL models</div>
<div class="a" style="left:859px;top:1945px;font-size:20px">•&nbsp;&nbsp;<b>(right)</b> MixMIL’s top- and bottom-weighted cells for the Latrunculin B drug</div>
<div class="a" style="left:859px;top:1978px;font-size:20px;line-height:25px">•&nbsp;&nbsp;<b>Improved performance</b> and consistent <b>downweighting</b> of experimental<br>&nbsp;&nbsp;&nbsp;&nbsp;artifacts</div>
<div class="a" style="left:1643px;top:1911px;font-size:20px;line-height:25.5px">•&nbsp;&nbsp;Classification<br>&nbsp;&nbsp;&nbsp;&nbsp;performance<br>&nbsp;&nbsp;&nbsp;&nbsp;(cancer vs healthy)</div>
<div class="a" style="left:1643px;top:1994px;font-size:20px;line-height:25.5px">•&nbsp;&nbsp;MixMIL shows <b>top AUC</b><br>&nbsp;&nbsp;&nbsp;&nbsp;compared to existing<br>&nbsp;&nbsp;&nbsp;&nbsp;MIL models</div>

<div class="h" style="left:112px;top:2063px">Single-cell RNA sequencing</div>
<div class="a" style="left:110px;top:2114px;font-size:34px;font-weight:bold">A</div>
<div class="a" style="left:1046px;top:2114px;font-size:34px;font-weight:bold">B</div>
<div class="a" style="left:110px;top:2366px;font-size:34px;font-weight:bold">C</div>

<div class="a s" style="left:293px;top:2387px;font-size:18px">Method</div>
<div class="a s" style="left:422px;width:120px;text-align:center;top:2387px;font-size:18px;line-height:23px">batch time<br>(ms)</div>
<div class="a s" style="left:552px;width:120px;text-align:center;top:2387px;font-size:18px;line-height:23px">predict time<br>(ms)</div>
<div class="a s" style="left:685px;width:80px;text-align:center;top:2387px;font-size:18px;line-height:23px">lik pars<br>(#)</div>
<div class="a s" style="left:781px;width:80px;text-align:center;top:2387px;font-size:18px;line-height:23px">var pars<br>(#)</div>
<div class="a s" style="left:293px;top:2440px;font-size:18px;line-height:22px;color:#333">Bayes-MIL<br>ABMIL<br>Gated ABMIL<br>DSMIL<br><b style="color:#111">MixMIL</b></div>
<div class="a s" style="left:422px;width:120px;text-align:center;top:2440px;font-size:18px;line-height:22px;color:#333">5.65 ± 0.02<br>1.72 ± 0.02<br>2.02 ± 0.02<br>1.99 ± 0.06<br><b style="color:#111">0.14 ± 0.01</b></div>
<div class="a s" style="left:552px;width:120px;text-align:center;top:2440px;font-size:18px;line-height:22px;color:#333">16.55 ± 0.30<br>0.21 ± 0.01<br>0.25 ± 0.01<br>0.39 ± 0.02<br><b style="color:#111">0.04 ± 0.01</b></div>
<div class="a s" style="left:685px;width:80px;text-align:center;top:2440px;font-size:18px;line-height:22px;color:#333">2883<br>1922<br>2852<br>992<br>67</div>
<div class="a s" style="left:781px;width:80px;text-align:center;top:2440px;font-size:18px;line-height:22px;color:#333">1890<br>-<br>-<br>-<br>1890</div>

<div class="a" style="left:1048px;top:2384px;font-size:20px">•&nbsp;&nbsp;<b>(A)</b> Prediction performance (Spearman ρ) for 28 indep. SNPs, MixMIL vs. other MILs</div>
<div class="a" style="left:1048px;top:2417px;font-size:20px;line-height:25px">•&nbsp;&nbsp;<b>(B)</b> rs7503161 (Chromosome 17, near EIF5A). EIF5A is involved in the <b>positive</b><br>&nbsp;&nbsp;&nbsp;&nbsp;<b>regulation</b> of the apoptosis (programmed cell death) signaling pathway. Differential gene<br>&nbsp;&nbsp;&nbsp;&nbsp;analysis yielded processes related to cell death. <b>a)</b> attention weights, <b>b)</b> Predictions of<br>&nbsp;&nbsp;&nbsp;&nbsp;GLMM trained on top-vs bottom-weighted cells</div>
<div class="a" style="left:1048px;top:2525px;font-size:20px">•&nbsp;&nbsp;<b>(C) Superior</b> batch and prediction <b>speed</b> of MixMIL</div>

<div class="bar" style="top:2582px"></div><div class="bt" style="top:2588px">References</div>
<div class="a" style="left:105px;top:2656px;font-size:18.3px;line-height:34.5px"><b>[1]</b> Maximilian Ilse, Jakub Tomczak, and Max Welling. ICML, 2018.<br><b>[2]</b> Seyhan Yazar, Jose Alquicira-Hernandez, Kristof Wing, et al. Science, 2022.<br><b>[3]</b> Peter D. Caie, Rebecca E. Walls, Alexandra Ingleston-Orme, et al. Molecular Cancer Therapeutics, 2010.<br><b>[4]</b> Babak Ehteshami Bejnordi, Mitko Veta, Paul Johannes van Diest, et al. JAMA, 2017.</div>
<div class="a" style="left:1041px;top:2659px;font-size:18.3px;line-height:35px"><b>[5]</b> Romain Lopez, Jeffrey Regier, Michael B Cole, et al. Nature methods, 2018.<br><b>[6]</b> Ting Chen, Simon Kornblith, Mohammad Norouzi, et al. ICML, 2020.<br><b>[7]</b> Alexis Perakis, Ali Gorji, Samriddhi Jain, et al. In Machine Learning in Medical Imaging, 2021.<br><b>[8]</b> Bin Li, Yin Li, and Kevin W. Eliceiri. CVPR, 2021.</div>

<script>
const NS='http://www.w3.org/2000/svg';const G=document.getElementById('dyn');
function el(t,a,p){const e=document.createElementNS(NS,t);for(const k in a)e.setAttribute(k,a[k]);(p||G).appendChild(e);return e;}
let seed=11;function rnd(){seed=(seed*16807)%2147483647;return seed/2147483647;}
function qr(x,y,s){const n=25,c=s/n;el('rect',{x,y,width:s,height:s,fill:'#fff'});for(let i=0;i<n;i++)for(let j=0;j<n;j++){if(rnd()<0.5)el('rect',{x:x+i*c,y:y+j*c,width:c+.3,height:c+.3,fill:'#000'});}
[[0,0],[n-7,0],[0,n-7]].forEach(([a,b])=>{el('rect',{x:x+a*c-c,y:y+b*c-c,width:9*c,height:9*c,fill:'#fff'});el('rect',{x:x+a*c,y:y+b*c,width:7*c,height:7*c,fill:'#000'});el('rect',{x:x+(a+1)*c,y:y+(b+1)*c,width:5*c,height:5*c,fill:'#fff'});el('rect',{x:x+(a+2)*c,y:y+(b+2)*c,width:3*c,height:3*c,fill:'#000'});});}
qr(1705,168,103);qr(1840,168,103);
const C=['#fbf6c8','#c3c9ef','#c9292f','#e9874d','#4f8b3b','#1f2d57'];
function axes(x0,x1,yt,yb){el('line',{x1:x0,y1:yt-3,x2:x0,y2:yb,stroke:'#333','stroke-width':.8});el('line',{x1:x0,y1:yb,x2:x1,y2:yb,stroke:'#333','stroke-width':.8});}
function bars(x0,x1,yt,yb,d){axes(x0,x1,yt,yb);const ng=d.length,gw=(x1-x0)/ng,bw=gw*.82/6;d.forEach((g,i)=>g.forEach((v,k)=>{const bx=x0+i*gw+gw*.09+k*bw,h=v*(yb-yt);el('rect',{x:bx,y:yb-h,width:bw-.4,height:h,fill:C[k],stroke:'#666','stroke-width':.3});el('line',{x1:bx+bw/2,x2:bx+bw/2,y1:yb-h-5,y2:yb-h+2,stroke:'#888','stroke-width':.7});}));}
bars(147,302,1643,1746,[[.35,.23,.12,.16,.14,.40],[.51,.37,.36,.47,.42,.64],[.57,.58,.56,.61,.61,.84],[.63,.58,.72,.75,.72,.90],[.65,.70,.86,.89,.83,.96]]);
bars(328,481,1643,1746,[[.93,.76,.57,.62,.87,.92],[.70,.57,.53,.61,.67,.84],[.57,.58,.56,.61,.61,.84],[.49,.47,.52,.60,.57,.82]]);
bars(507,662,1643,1746,[[.60,.58,.51,.57,.65,.80],[.57,.58,.56,.61,.61,.84],[.55,.50,.60,.58,.60,.72],[.45,.55,.58,.60,.57,.90]]);
function lines(x0,x1,xs,ser){axes(x0,x1,1768,1873);const Y=v=>1770+(1-v)/.5*93;ser.forEach(([c,vals,o])=>{const p=vals.map((v,i)=>[x0+xs[i+o]*(x1-x0),Y(v)]);el('polyline',{points:p.map(q=>q.join(',')).join(' '),fill:'none',stroke:c,'stroke-width':1.4});p.forEach(q=>el('path',{d:`M${q[0]-3},${q[1]+2.5}L${q[0]+3},${q[1]+2.5}L${q[0]},${q[1]-3}Z`,fill:c}));});}
const S=(a,b,c,d,e)=>[['#c3c9ef',a,0],['#4f8b3b',b,0],['#c9292f',c,0],['#e9874d',d,0],['#1f2d57',e,0]];
lines(147,302,[.12,.32,.52,.72,.92],S([.57,.65,.70,.67,.75],[.51,.65,.67,.82,.94],[.53,.67,.89,.93,.96],[.54,.75,.90,.94,.97],[.71,.86,.95,.98,.99]));
lines(328,481,[.12,.37,.62,.87],S([.63,.70,.67],[.67,.67,.76],[.77,.88,.84],[.81,.89,.87],[.91,.95,.95]).map(s=>[s[0],s[1],1]));
lines(507,662,[.12,.37,.62,.87],S([.75,.70,.62,.57],[.76,.68,.58,.67],[.78,.88,.82,.85],[.82,.89,.83,.86],[.93,.95,.93,.95]));
const P=[[.02,.35],[0,.16],[.03,.2],[.06,.16],[.08,.24],[.1,.15],[.11,.2],[.12,.18],[.13,.22],[.14,.24],[.12,.16],[.16,.23],[.2,.27],[.25,.3],[.27,.37],[.28,.33],[.3,.4],[.26,.3],[.46,.49],[.51,.54],[.64,.73],[.69,.71],[.09,.2],[.13,.19],[.11,.17],[.12,.21],[.05,.16]];
[0,213,429,644].forEach((o,k)=>{const X=v=>218+o+v*158.75,Y=v=>2290-v*158.75;
el('line',{x1:210+o,y1:2160,x2:210+o,y2:2298,stroke:'#222','stroke-width':1.5});el('line',{x1:210+o,y1:2298,x2:346+o,y2:2298,stroke:'#222','stroke-width':1.5});
[0,.2,.4,.6,.8].forEach(v=>{el('line',{x1:205+o,x2:210+o,y1:Y(v),y2:Y(v),stroke:'#222'});el('line',{x1:X(v),x2:X(v),y1:2298,y2:2303,stroke:'#222'});});
el('line',{x1:X(-.05),y1:Y(-.05),x2:X(.82),y2:Y(.82),stroke:'#666','stroke-width':2.5});
P.forEach(([a,b])=>{const j=(rnd()-.5)*.04;el('circle',{cx:X(a+j),cy:Y(b+(k?j:0)),r:6,fill:'#8b1a1a','fill-opacity':.65});});
el('circle',{cx:X(.15),cy:Y(.15),r:6,fill:'#111','fill-opacity':.8});if(k==1)el('circle',{cx:X(.27),cy:Y(.27),r:6,fill:'#111','fill-opacity':.8});});
const YB=v=>2239.5-v*53;
function box(x,w,q1,m,q3,lo,hi,f){el('line',{x1:x+w/2,x2:x+w/2,y1:YB(hi),y2:YB(lo),stroke:'#333'});[lo,hi].forEach(v=>el('line',{x1:x+w*.3,x2:x+w*.7,y1:YB(v),y2:YB(v),stroke:'#333'}));el('rect',{x,y:YB(q3),width:w,height:YB(q1)-YB(q3),fill:f,stroke:'#333'});el('line',{x1:x,x2:x+w,y1:YB(m),y2:YB(m),stroke:'#333'});}
box(1561,22,-.55,-.2,.15,-1.57,.92,'#fff');box(1585,22,-.39,-.06,.3,-1.35,1.18,'#bbb');box(1609,22,-.18,.15,.47,-1.12,1.22,'#666');
box(1658,22,-.05,-.02,.03,-.1,.1,'#555');box(1681,22,-.05,-.01,.03,-.1,.1,'#888');box(1705,22,-.05,0,.04,-.1,.1,'#333');
[[1596,1.45],[1620,1.5],[1669,.12],[1692,.12],[1692,-.15],[1716,.12],[1716,-.12]].forEach(([x,v])=>el('path',{d:`M${x},${YB(v)-4}L${x+2.5},${YB(v)}L${x},${YB(v)+4}L${x-2.5},${YB(v)}Z`,fill:'#222'}));
function tiles(id,top){const t=document.getElementById(id);for(let r=0;r<2;r++)for(let c=0;c<8;c++){const d=document.createElement('div');if(top){d.style.background=`radial-gradient(ellipse at ${30+rnd()*40}% ${30+rnd()*40}%, #8fa5b8 0 15%, #9cc25a 25%, #7aa03a 50%, ${rnd()<.4?'#101808':'#6e8c30'} 75%)`;}else{const g=(r==0&&rnd()<.7)||(r==1&&c==0);d.style.background=g?`radial-gradient(circle at ${20+rnd()*60}% ${20+rnd()*50}%, #9ccf8a 0 18%, #1a2fe0 26%)`:'#1a2ae8';}t.appendChild(d);}}
tiles('tiles',1);tiles('tiles2',0);
</script>
</body></html>
